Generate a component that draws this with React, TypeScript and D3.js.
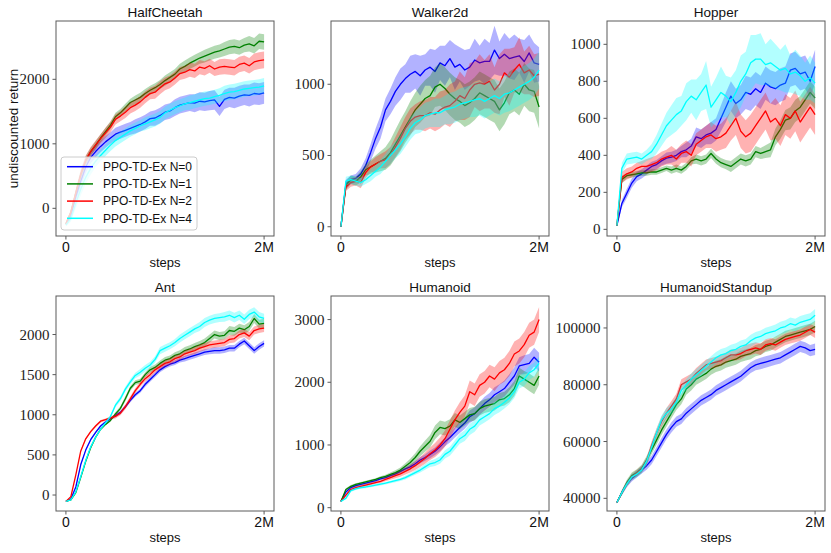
import React from 'react';
import * as d3 from 'd3';

// x grid: steps in millions, every 50k
const steps: number[] = d3.range(41).map((i) => i * 0.05);

const seriesNames = ['PPO-TD-Ex N=0', 'PPO-TD-Ex N=1', 'PPO-TD-Ex N=2', 'PPO-TD-Ex N=4'];
const seriesColors = ['#0000ff', '#008000', '#ff0000', '#00ffff'];

// ---------- HalfCheetah ----------
const hcN0 = [-250,-120,180,420,640,790,880,960,1030,1090,1150,1180,1210,1240,1270,1300,1340,1390,1400,1440,1490,1510,1560,1600,1620,1640,1630,1660,1650,1670,1680,1580,1690,1720,1710,1740,1760,1750,1780,1770,1790];
const hcN1 = [-240,-60,240,520,740,880,980,1090,1190,1290,1420,1480,1560,1640,1680,1720,1780,1830,1870,1920,1980,2030,2080,2160,2200,2250,2290,2330,2360,2390,2420,2440,2470,2500,2510,2490,2530,2550,2520,2590,2580];
const hcN2 = [-240,-60,240,530,750,880,980,1080,1170,1260,1380,1430,1490,1560,1600,1650,1720,1780,1800,1870,1930,1960,2020,2090,2110,2150,2130,2190,2170,2210,2160,2190,2200,2190,2180,2230,2250,2210,2270,2290,2300];
const hcN4 = [-260,-160,80,300,480,620,730,820,900,980,1050,1100,1150,1200,1240,1280,1310,1340,1370,1410,1480,1520,1560,1590,1620,1640,1660,1680,1700,1710,1730,1750,1780,1800,1810,1830,1850,1860,1870,1880,1900];
const hcN0band = [20,40,60,80,90,90,90,90,90,90,100,100,100,100,110,110,110,110,120,120,120,120,130,130,130,130,140,140,140,150,150,150,150,150,160,160,160,170,170,170,170];
const hcN1band = [20,40,60,70,70,60,60,60,60,60,60,60,60,60,70,70,70,70,70,70,80,80,80,80,90,90,90,90,100,100,100,100,110,110,110,110,110,120,120,120,120];
const hcN2band = [20,40,60,70,70,70,70,70,80,80,80,80,90,90,90,90,90,90,100,100,100,100,100,100,100,110,110,110,110,110,110,120,120,120,120,120,120,120,130,130,130];
const hcN4band = [20,50,80,100,100,100,90,90,90,90,90,90,90,90,90,90,100,100,100,100,100,100,100,100,100,110,110,110,110,110,110,110,120,120,120,120,120,120,120,120,120];

// ---------- Walker2d ----------
const wkN0 = [0,300,330,340,370,430,520,620,700,820,880,950,1000,1040,1070,1090,1060,1100,1120,1090,1150,1130,1180,1120,1140,1100,1120,1170,1150,1160,1160,1240,1180,1210,1180,1190,1200,1160,1220,1150,1140];
const wkN1 = [0,290,330,320,350,400,420,440,460,480,520,580,640,700,760,820,860,900,920,980,1000,970,930,900,880,850,870,900,940,920,900,880,820,870,940,960,930,1000,960,950,840];
const wkN2 = [0,280,310,320,310,380,420,440,460,470,500,560,620,690,740,770,780,780,800,790,820,840,850,880,920,900,960,1000,1010,1000,1020,960,1000,1080,1050,1100,1140,1080,1100,1060,1070];
const wkN4 = [0,320,330,320,310,330,360,390,420,460,500,540,580,630,690,730,750,780,790,800,800,820,830,840,860,870,880,890,900,880,900,920,900,930,940,960,980,1000,1020,1050,1100];
const wkN0band = [5,30,30,30,40,50,60,70,80,80,90,100,110,100,130,120,140,110,130,150,120,140,130,160,120,140,130,150,120,160,130,170,120,150,140,160,120,150,130,140,120];
const wkN1band = [5,30,30,30,40,40,50,60,70,80,90,100,110,110,120,120,130,130,140,140,150,150,150,150,150,150,150,150,150,150,150,150,150,150,150,150,150,150,150,150,150];
const wkN2band = [5,30,30,30,40,40,40,50,50,60,60,70,80,80,90,90,100,110,110,120,130,120,150,140,170,150,190,160,200,170,190,160,210,170,200,160,190,150,170,150,150];
const wkN4band = [5,30,30,30,30,30,40,40,50,50,60,60,70,70,80,80,90,90,90,100,100,100,110,110,110,110,110,120,120,120,120,120,120,130,130,130,130,130,130,130,130];

// ---------- Hopper ----------
const hpN0 = [20,140,195,250,285,300,320,340,350,370,385,390,400,420,430,450,500,490,510,520,540,600,660,720,680,700,740,730,760,740,790,770,760,780,790,860,870,840,850,800,880];
const hpN1 = [20,270,290,295,300,305,305,310,310,320,330,320,330,320,340,370,380,370,380,410,380,360,350,340,360,380,370,380,420,410,420,430,500,540,590,600,640,660,700,740,710];
const hpN2 = [20,280,300,310,330,340,340,350,360,380,390,400,380,410,420,400,460,480,500,510,490,500,520,560,600,530,500,520,560,600,640,580,600,560,620,600,640,580,620,660,620];
const hpN4 = [20,330,380,385,390,380,400,420,460,510,560,590,620,640,690,720,700,740,780,660,700,740,720,690,740,800,840,900,920,920,890,900,880,860,870,840,850,830,800,820,790];
const hpN0band = [5,20,25,25,25,25,25,25,25,25,30,30,30,30,40,40,50,50,50,60,60,70,80,80,80,80,90,90,90,90,90,90,90,90,90,90,90,90,90,90,90];
const hpN1band = [5,20,15,15,15,15,15,15,15,15,15,20,20,20,20,20,25,25,25,25,25,25,25,30,30,30,30,30,30,30,35,40,45,50,55,60,60,60,60,60,60];
const hpN2band = [5,30,30,30,30,30,40,40,40,40,40,50,50,50,60,60,60,60,60,70,70,70,80,80,90,90,90,100,100,100,100,100,110,110,110,110,110,110,110,110,110];
const hpN4band = [5,30,30,30,30,30,30,40,50,60,70,80,90,80,100,90,110,100,130,110,120,140,110,130,120,140,120,150,130,140,110,130,120,110,130,100,120,110,100,120,110];

// ---------- Ant ----------
const antN0 = [-80,-50,100,380,560,690,780,860,910,950,990,1030,1100,1180,1250,1300,1380,1440,1500,1560,1600,1630,1650,1680,1700,1720,1740,1760,1780,1790,1800,1800,1810,1830,1830,1880,1920,1860,1800,1850,1890];
const antN1 = [-80,-60,30,220,420,590,720,820,880,930,1010,1080,1200,1330,1400,1420,1500,1560,1590,1640,1680,1700,1740,1760,1800,1820,1850,1870,1900,1950,2000,1980,1990,2050,2040,2080,2060,2100,2200,2130,2140];
const antN2 = [-80,-20,250,550,700,790,860,920,940,960,980,1020,1100,1200,1300,1380,1450,1500,1560,1600,1640,1660,1700,1720,1760,1780,1800,1830,1850,1870,1880,1890,1900,1940,1950,2000,2020,1980,2050,2070,2080];
const antN4 = [-80,-60,40,230,430,600,720,820,900,980,1120,1200,1320,1410,1490,1530,1580,1620,1690,1800,1830,1860,1900,1950,1990,2030,2070,2100,2150,2180,2200,2210,2220,2240,2210,2240,2190,2250,2280,2220,2200];
const antN0band = [5,5,10,15,15,15,15,15,15,15,20,20,20,25,25,25,30,30,30,30,30,30,30,30,35,35,35,35,35,35,40,40,40,40,40,40,40,40,40,40,40];
const antN1band = [5,5,10,15,15,15,15,15,15,15,20,25,30,30,30,30,30,35,35,35,40,40,40,45,45,45,45,50,50,50,50,50,50,55,55,55,55,55,55,55,55];
const antN2band = [5,5,10,15,15,15,15,15,15,20,25,25,30,30,30,30,35,35,35,35,35,40,40,40,40,40,45,45,45,45,45,45,45,50,50,50,50,50,50,50,50];
const antN4band = [5,5,10,15,15,15,15,15,15,20,25,30,30,35,35,40,40,40,40,45,45,45,45,50,50,50,50,55,55,55,55,55,60,60,60,60,60,60,60,60,60];

// ---------- Humanoid ----------
const huN0 = [100,250,320,350,370,390,410,430,460,480,510,540,580,620,650,700,760,800,850,900,970,1050,1120,1200,1280,1350,1450,1500,1580,1660,1720,1800,1850,1900,2000,2100,2260,2280,2300,2400,2320];
const huN1 = [100,290,340,370,390,410,430,450,480,500,530,560,600,660,720,800,900,980,1060,1200,1280,1260,1300,1400,1360,1420,1480,1500,1580,1620,1640,1660,1720,1740,1800,1900,2100,2050,2000,1950,2100];
const huN2 = [100,200,290,320,340,360,380,400,420,450,480,510,540,580,620,670,730,790,860,920,1000,1100,1250,1400,1520,1620,1850,1800,1950,2000,2100,2050,2150,2200,2300,2450,2500,2600,2750,2800,3000];
const huN4 = [100,150,270,300,320,330,345,360,375,390,410,430,450,480,520,560,600,650,700,720,760,850,900,1000,1100,1150,1250,1300,1400,1450,1500,1580,1620,1680,1750,1850,2000,2050,2150,2200,2300];
const huN0band = [5,20,20,20,20,20,20,20,20,20,25,25,30,30,40,40,50,50,60,60,70,70,80,80,90,90,100,100,100,110,110,120,120,130,130,140,140,150,150,150,150];
const huN1band = [5,20,20,20,20,20,20,20,20,25,30,35,40,50,60,70,80,90,100,110,110,110,110,110,110,110,110,110,110,110,110,110,110,110,120,120,130,130,140,140,140];
const huN2band = [5,20,20,20,20,20,20,20,25,30,35,40,45,50,60,70,80,90,100,110,120,130,140,150,160,170,180,180,180,180,180,190,190,190,200,200,200,200,200,200,200];
const huN4band = [5,20,20,20,20,20,20,20,20,20,20,25,25,30,30,35,40,45,50,55,60,65,70,75,80,85,90,90,90,90,90,100,100,100,100,100,100,110,110,110,110];

// ---------- HumanoidStandup ----------
const hsN0 = [38500,42000,45000,47000,48500,50000,51500,53500,56500,59500,62500,65000,67000,68000,70000,71500,73000,74500,75500,76500,78000,79000,80000,81000,82000,83000,84500,86000,87000,87500,88000,88500,89000,89500,90500,91500,92500,93500,93000,92000,92500];
const hsN1 = [38500,42000,45500,48000,49000,50500,53500,57000,60500,64000,67000,70000,73000,75000,78500,80000,82000,83000,84000,85500,86500,87000,88000,88500,89000,90000,90500,91000,92000,92500,93500,94000,95000,96000,97000,97500,98000,98500,99000,99500,100500];
const hsN2 = [38500,42000,45000,47500,48800,50200,53000,58500,63000,67000,70000,72500,75000,80000,81000,82000,84000,85500,87000,87500,88000,88500,89500,90500,90500,91000,92000,92500,93000,92500,94000,94500,94000,95000,96000,96500,97000,97500,98500,99500,98500];
const hsN4 = [38500,42000,45000,47500,48500,50000,53000,58000,63000,67500,70000,71500,74000,78000,80000,82000,83500,85000,86500,88000,89500,90500,91000,92000,92500,93500,94000,95500,96500,97000,98000,98500,99000,100000,100500,101500,101000,102000,102500,103000,104500];
const hsN0band = [300,800,1000,1100,1200,1300,1400,1500,1600,1700,1700,1800,1800,1800,1800,1800,1800,1800,1800,1800,1800,1900,1900,1900,1900,1900,1900,1900,1900,2000,2000,2000,2000,2000,2000,2000,2000,2000,2000,2000,2000];
const hsN1band = [300,800,1000,1100,1200,1300,1400,1500,1600,1700,1800,1800,1900,1900,2000,2000,2000,2000,2000,2000,2000,2000,2000,2000,2000,2000,2000,2000,2000,2000,2000,2000,2000,2000,2000,2000,2000,2000,2000,2000,2000];
const hsN2band = [300,800,1000,1100,1200,1300,1400,1500,1600,1700,1800,1800,1800,1900,1900,1900,1900,1900,1900,1900,1900,1900,1900,1900,2000,2000,2000,2000,2000,2000,2000,2000,2000,2000,2000,2000,2000,2000,2000,2000,2000];
const hsN4band = [300,800,1000,1100,1200,1300,1400,1500,1600,1700,1800,1800,1900,1900,2000,2000,2000,2000,2000,2000,2000,2100,2100,2100,2100,2100,2100,2100,2100,2100,2100,2100,2200,2200,2200,2200,2200,2200,2200,2200,2200];

type PanelDef = {
  title: string;
  means: number[][];
  bands: number[][];
  yDomain: [number, number];
  yTicks: number[];
  col: number;
  row: number;
};

const panels: PanelDef[] = [
  { title: 'HalfCheetah', means: [hcN0, hcN1, hcN2, hcN4], bands: [hcN0band, hcN1band, hcN2band, hcN4band], yDomain: [-429, 2904], yTicks: [0, 1000, 2000], col: 0, row: 0 },
  { title: 'Walker2d', means: [wkN0, wkN1, wkN2, wkN4], bands: [wkN0band, wkN1band, wkN2band, wkN4band], yDomain: [-65, 1444], yTicks: [0, 500, 1000], col: 1, row: 0 },
  { title: 'Hopper', means: [hpN0, hpN1, hpN2, hpN4], bands: [hpN0band, hpN1band, hpN2band, hpN4band], yDomain: [-36, 1126], yTicks: [0, 200, 400, 600, 800, 1000], col: 2, row: 0 },
  { title: 'Ant', means: [antN0, antN1, antN2, antN4], bands: [antN0band, antN1band, antN2band, antN4band], yDomain: [-199, 2480], yTicks: [0, 500, 1000, 1500, 2000], col: 0, row: 1 },
  { title: 'Humanoid', means: [huN0, huN1, huN2, huN4], bands: [huN0band, huN1band, huN2band, huN4band], yDomain: [-53, 3376], yTicks: [0, 1000, 2000, 3000], col: 1, row: 1 },
  { title: 'HumanoidStandup', means: [hsN0, hsN1, hsN2, hsN4], bands: [hsN0band, hsN1band, hsN2band, hsN4band], yDomain: [35533, 111256], yTicks: [40000, 60000, 80000, 100000], col: 2, row: 1 },
];

const colX: [number, number][] = [[56, 274], [331, 549], [607, 825]];
const rowY: [number, number][] = [[21, 236], [296, 511]];

const SANS = "'Liberation Sans', Arial, sans-serif";
const SERIF = "'Liberation Serif', 'Times New Roman', serif";
const FRAME = '#5a5a5a';

function Panel({ p }: { p: PanelDef }) {
  const [x0, x1] = colX[p.col];
  const [y0, y1] = rowY[p.row];
  const x = d3.scaleLinear().domain([-0.1, 2.1]).range([x0, x1]);
  const y = d3.scaleLinear().domain(p.yDomain).range([y1, y0]);
  const line = d3.line<number>().x((_, i) => x(steps[i])).y((d) => y(d));
  const clipId = 'clip-' + p.title;
  const cx = (x0 + x1) / 2;
  return (
    <g>
      <defs>
        <clipPath id={clipId}>
          <rect x={x0} y={y0} width={x1 - x0} height={y1 - y0} />
        </clipPath>
      </defs>
      <g clipPath={`url(#${clipId})`}>
        {p.means.map((m, s) => {
          const b = p.bands[s];
          const area = d3
            .area<number>()
            .x((_, i) => x(steps[i]))
            .y0((d, i) => y(d - b[i]))
            .y1((d, i) => y(d + b[i]));
          return (
            <g key={s}>
              <path d={area(m) || ''} fill={seriesColors[s]} fillOpacity={0.3} stroke="none" />
              <path d={line(m) || ''} fill="none" stroke={seriesColors[s]} strokeWidth={1.3} strokeLinejoin="round" />
            </g>
          );
        })}
      </g>
      <rect x={x0} y={y0} width={x1 - x0} height={y1 - y0} fill="none" stroke={FRAME} strokeWidth={1} />
      {[0, 2].map((t) => (
        <g key={t}>
          <line x1={x(t)} x2={x(t)} y1={y1} y2={y1 + 3.5} stroke={FRAME} strokeWidth={1} />
          <text x={x(t)} y={y1 + 16} textAnchor="middle" fontFamily={SANS} fontSize={14} fill="#111">
            {t === 0 ? '0' : '2M'}
          </text>
        </g>
      ))}
      {p.yTicks.map((t) => (
        <g key={t}>
          <line x1={x0 - 3.5} x2={x0} y1={y(t)} y2={y(t)} stroke={FRAME} strokeWidth={1} />
          <text x={x0 - 6.5} y={y(t) + 5} textAnchor="end" fontFamily={SERIF} fontSize={15} fill="#222">
            {String(t)}
          </text>
        </g>
      ))}
      <text x={cx} y={y0 - 4.5} textAnchor="middle" fontFamily={SANS} fontSize={13.5} fill="#111">
        {p.title}
      </text>
      <text x={cx} y={y1 + 30.5} textAnchor="middle" fontFamily={SANS} fontSize={13} fill="#111">
        steps
      </text>
    </g>
  );
}

function Legend() {
  const [x0] = colX[0];
  const [, y1] = rowY[0];
  const lx = x0 + 5;
  const ly = y1 - 79;
  return (
    <g>
      <rect x={lx} y={ly} width={136} height={73} rx={3} fill="#ffffff" fillOpacity={0.8} stroke="#cccccc" strokeWidth={1} />
      {seriesNames.map((n, i) => {
        const yy = ly + 9.7 + i * 17.2;
        return (
          <g key={n}>
            <line x1={lx + 6} x2={lx + 32} y1={yy} y2={yy} stroke={seriesColors[i]} strokeWidth={1.5} />
            <text x={lx + 42} y={yy + 4.3} fontFamily={SANS} fontSize={12} fill="#111">
              {n}
            </text>
          </g>
        );
      })}
    </g>
  );
}

export default function App() {
  return (
    <svg
      width={831}
      height={553}
      viewBox="0 0 831 553"
      style={{ position: 'absolute', left: 0, top: 0, background: '#ffffff' }}
    >
      <rect x={0} y={0} width={831} height={553} fill="#ffffff" />
      {panels.map((p) => (
        <Panel key={p.title} p={p} />
      ))}
      <Legend />
      <text
        transform={`translate(17.5, ${(rowY[0][0] + rowY[0][1]) / 2}) rotate(-90)`}
        textAnchor="middle"
        fontFamily={SANS}
        fontSize={13.5}
        fill="#111"
      >
        undiscounted return
      </text>
    </svg>
  );
}
